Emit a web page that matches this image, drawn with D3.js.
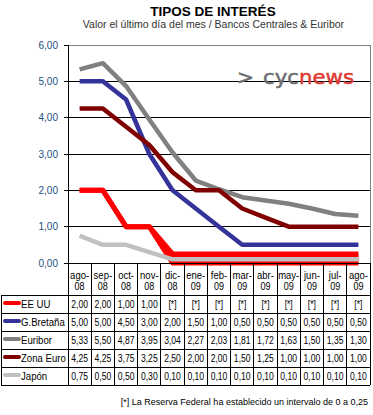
<!DOCTYPE html>
<html>
<head>
<meta charset="utf-8">
<script src="https://cdn.jsdelivr.net/npm/d3@7"></script>
<style>
  html, body { margin: 0; padding: 0; background: #fff; }
  svg { display: block; font-family: "Liberation Sans", Arial, sans-serif; }
</style>
</head>
<body>
<div id="chart"></div>
<script>
// months shown on the table header
const months = ["ago-08", "sep-08", "oct-08", "nov-08", "dic-08", "ene-09", "feb-09",
  "mar-09", "abr-09", "may-09", "jun-09", "jul-09", "ago-09"];

// EE UU: from dic-08 the Fed gives a range 0 - 0,25 (drawn as a band)
const usHigh = [2.00, 2.00, 1.00, 1.00, 0.25, 0.25, 0.25, 0.25, 0.25, 0.25, 0.25, 0.25, 0.25];
const usLow  = [2.00, 2.00, 1.00, 1.00, 0.00, 0.00, 0.00, 0.00, 0.00, 0.00, 0.00, 0.00, 0.00];
const usText = ["2,00", "2,00", "1,00", "1,00", "[*]", "[*]", "[*]", "[*]", "[*]", "[*]", "[*]", "[*]", "[*]"];
const gb      = [5.00, 5.00, 4.50, 3.00, 2.00, 1.50, 1.00, 0.50, 0.50, 0.50, 0.50, 0.50, 0.50];
const euribor = [5.33, 5.50, 4.87, 3.95, 3.04, 2.27, 2.03, 1.81, 1.72, 1.63, 1.50, 1.35, 1.30];
const euro    = [4.25, 4.25, 3.75, 3.25, 2.50, 2.00, 2.00, 1.50, 1.25, 1.00, 1.00, 1.00, 1.00];
const japan   = [0.75, 0.50, 0.50, 0.30, 0.10, 0.10, 0.10, 0.10, 0.10, 0.10, 0.10, 0.10, 0.10];

const yTicks = [0, 1, 2, 3, 4, 5, 6];

const fmt = v => v.toFixed(2).replace(".", ",");

const rows = [
  { name: "EE UU",      color: "#ff0000", text: usText },
  { name: "G.Bretaña",  color: "#333399", text: gb.map(fmt) },
  { name: "Euribor",    color: "#808080", text: euribor.map(fmt) },
  { name: "Zona Euro",  color: "#800000", text: euro.map(fmt) },
  { name: "Japón",      color: "#c0c0c0", text: japan.map(fmt) }
];

const W = 373, H = 415;
const plot = { left: 68, right: 370, top: 45, bottom: 263 };

const svg = d3.select("#chart").append("svg")
  .attr("width", W).attr("height", H);

// titles
svg.append("text").attr("x", 213).attr("y", 16)
  .attr("text-anchor", "middle").attr("font-weight", "bold")
  .attr("font-size", 13.5).attr("fill", "#000").text("TIPOS DE INTERÉS");
svg.append("text").attr("x", 213.5).attr("y", 27.5)
  .attr("text-anchor", "middle").attr("font-size", 10.5).attr("fill", "#333")
  .text("Valor el último día del mes / Bancos Centrales & Euribor");

const x = d3.scaleBand().domain(months).range([plot.left, plot.right]);
const cx = i => x(months[i]) + x.bandwidth() / 2;
const y = d3.scaleLinear().domain([0, 6]).range([plot.bottom, plot.top]);

// gridlines
svg.append("g").selectAll("line")
  .data(yTicks.filter(t => t > 0 && t < 6))
  .join("line")
  .attr("x1", plot.left - 4).attr("x2", plot.right)
  .attr("y1", d => y(d)).attr("y2", d => y(d))
  .attr("stroke", "#000").attr("stroke-width", 1).attr("shape-rendering", "crispEdges");

// plot frame top / right in grey
svg.append("path")
  .attr("d", `M${plot.left},${y(6)}H${plot.right}V${plot.bottom}`)
  .attr("fill", "none").attr("stroke", "#808080").attr("shape-rendering", "crispEdges");
svg.append("line").attr("x1", plot.left - 4).attr("x2", plot.left)
  .attr("y1", y(6)).attr("y2", y(6)).attr("stroke", "#000").attr("shape-rendering", "crispEdges");

// y labels
svg.append("g").selectAll("text")
  .data(yTicks).join("text")
  .attr("x", 58).attr("y", d => y(d) + 3.5)
  .attr("text-anchor", "end").attr("font-size", 10).attr("fill", "#24507f")
  .text(d => fmt(d));

// logo
const logoFont = "'DejaVu Sans', Verdana, sans-serif";
svg.append("text").attr("x", 237).attr("y", 84)
  .attr("font-family", logoFont).attr("font-size", 20)
  .attr("fill", "#6e6e72").attr("stroke", "#6e6e72").attr("stroke-width", 0.5)
  .attr("textLength", 17).attr("lengthAdjust", "spacingAndGlyphs").text(">");
const logo = svg.append("text").attr("x", 263).attr("y", 84)
  .attr("font-family", logoFont).attr("font-size", 20)
  .attr("stroke-width", 0.5)
  .attr("textLength", 91).attr("lengthAdjust", "spacingAndGlyphs");
logo.append("tspan").attr("fill", "#6e6e72").attr("stroke", "#6e6e72").text("cyc");
logo.append("tspan").attr("fill", "#dc3c34").attr("stroke", "#dc3c34").text("news");

// series
const line = d3.line().x((d, i) => cx(i)).y(d => y(d));
const area = d3.area().x((d, i) => cx(i)).y0((d, i) => y(usLow[i])).y1(d => y(d));

svg.append("path").datum(usHigh).attr("d", area).attr("fill", "#ff0000");
[usHigh, usLow].forEach(s => {
  svg.append("path").datum(s).attr("d", line)
    .attr("fill", "none").attr("stroke", "#ff0000").attr("stroke-width", 5)
    .attr("stroke-linejoin", "round");
});
[[gb, "#333399"], [euribor, "#808080"], [euro, "#800000"], [japan, "#c0c0c0"]].forEach(([s, c]) => {
  svg.append("path").datum(s).attr("d", line)
    .attr("fill", "none").attr("stroke", c).attr("stroke-width", 4.5)
    .attr("stroke-linejoin", "round");
});

// axes
svg.append("line").attr("x1", plot.left).attr("x2", plot.left)
  .attr("y1", plot.top).attr("y2", plot.bottom + 32)
  .attr("stroke", "#000").attr("shape-rendering", "crispEdges");

// data table
const headBottom = 295, rowH = 18;
const tableBottom = headBottom + rowH * rows.length;
const tbl = svg.append("g").attr("shape-rendering", "crispEdges");

tbl.append("line").attr("x1", plot.left - 4).attr("x2", plot.right)
  .attr("y1", plot.bottom).attr("y2", plot.bottom).attr("stroke", "#000");

const bounds = months.map(m => x(m)).concat([plot.right]);
tbl.selectAll("line.col").data(bounds).join("line").attr("class", "col")
  .attr("x1", d => d).attr("x2", d => d)
  .attr("y1", plot.bottom).attr("y2", tableBottom).attr("stroke", "#000");

tbl.selectAll("line.row").data(d3.range(rows.length + 1)).join("line").attr("class", "row")
  .attr("x1", 1).attr("x2", plot.right)
  .attr("y1", i => headBottom + i * rowH).attr("y2", i => headBottom + i * rowH)
  .attr("stroke", "#000");
tbl.append("line").attr("x1", 1).attr("x2", 1)
  .attr("y1", headBottom).attr("y2", tableBottom).attr("stroke", "#000");

// header
const head = svg.append("g").attr("font-size", 10).attr("text-anchor", "middle");
months.forEach((m, i) => {
  const [a, b] = m.split("-");
  head.append("text").attr("transform", `translate(${cx(i)},278.5) scale(0.95,1)`).text(a + "-");
  head.append("text").attr("transform", `translate(${cx(i)},289.5) scale(0.9,1)`).text(b);
});

// rows
rows.forEach((r, j) => {
  const mid = headBottom + j * rowH + rowH / 2;
  svg.append("line").attr("x1", 5).attr("x2", 19)
    .attr("y1", mid - 1).attr("y2", mid - 1)
    .attr("stroke", r.color).attr("stroke-width", 4).attr("stroke-linecap", "round");
  svg.append("text").attr("transform", `translate(21,${mid + 3.5}) scale(0.96,1)`)
    .attr("font-size", 10).text(r.name);
  svg.append("g").attr("font-size", 10).attr("text-anchor", "middle")
    .selectAll("text").data(r.text).join("text")
    .attr("transform", (d, i) => `translate(${cx(i)},${mid + 3.5}) scale(0.86,1)`)
    .text(d => d);
});

// footnote
svg.append("text").attr("x", 368).attr("y", 405)
  .attr("text-anchor", "end").attr("font-size", 9)
  .text("[*] La Reserva Federal ha establecido un intervalo de 0 a 0,25");
</script>
</body>
</html>
